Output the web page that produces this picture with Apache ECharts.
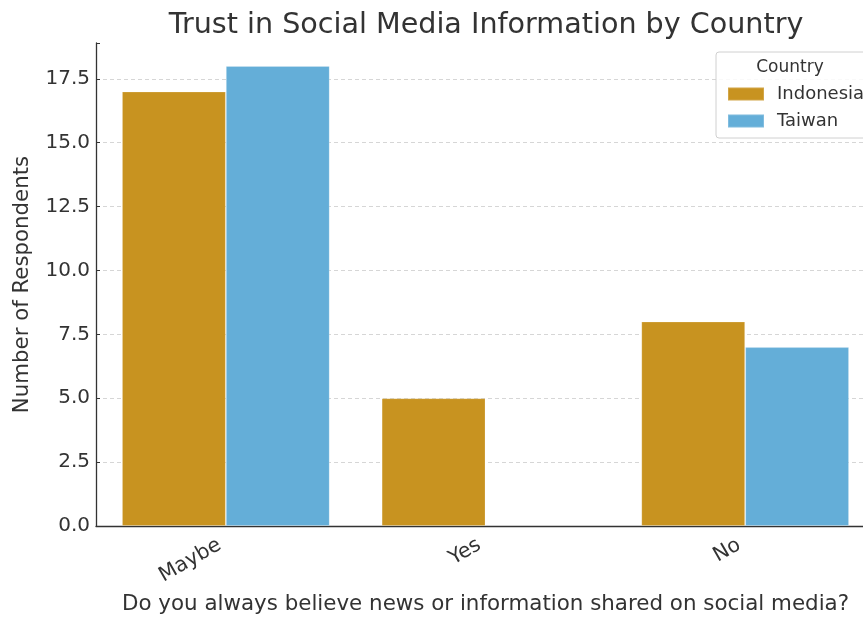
<!DOCTYPE html>
<html>
<head>
<meta charset="utf-8">
<script src="https://cdn.jsdelivr.net/npm/echarts@6/dist/echarts.min.js"></script>
<style>html,body{margin:0;padding:0;background:#fff;overflow:hidden}#wrap{width:863px;height:617px;overflow:hidden;position:relative}#c{width:880px;height:617px;position:absolute;left:0;top:0}</style>
</head>
<body>
<div id="wrap"><div id="c"></div></div>
<script>
const categories = ["Maybe", "Yes", "No"];
const indonesia = [17, 5, 8];
const taiwan = [18, null, 7];
const seriesNames = ["Indonesia", "Taiwan"];
const yTicks = [0, 2.5, 5, 7.5, 10, 12.5, 15, 17.5];

const FONT = "DejaVu Sans";
const TXT = "#333333";
const chart = echarts.init(document.getElementById('c'), null, {renderer: 'canvas', width: 880, height: 617});
chart.setOption({
  backgroundColor: '#fff',
  animation: false,
  textStyle: {fontFamily: FONT, color: TXT},
  title: {
    text: 'Trust in Social Media Information by Country',
    left: 481, top: 6, textAlign: 'center',
    textStyle: {fontFamily: FONT, fontSize: 28.6, fontWeight: 'normal', color: TXT}
  },
  grid: {left: 96, top: 43, right: 5, height: 483, containLabel: false, outerBoundsMode: 'none'},
  legend: {
    orient: 'vertical', left: 722, top: 80,
    itemWidth: 36, itemHeight: 13, itemGap: 9,
    icon: 'rect',
    data: seriesNames,
    textStyle: {fontFamily: FONT, fontSize: 18, color: TXT, padding: [0, 0, 0, 8]}
  },
  graphic: [
    {type: 'rect', shape: {x: 716, y: 52, width: 160, height: 86, r: 3}, style: {fill: 'rgba(255,255,255,0.85)', stroke: '#d0d0d0', lineWidth: 1}, z: 1},
    {type: 'text', x: 790, y: 59, style: {text: 'Country', font: '17px "DejaVu Sans"', fill: TXT, textAlign: 'center'}, z: 2}
  ],
  xAxis: {
    type: 'category', data: categories,
    name: 'Do you always believe news or information shared on social media?',
    nameLocation: 'middle', nameGap: 68,
    nameTextStyle: {fontFamily: FONT, fontSize: 21.4, color: TXT},
    axisLine: {lineStyle: {color: '#333', width: 1.3}},
    axisTick: {alignWithLabel: true, inside: true, length: 4, lineStyle: {color: '#333'}},
    axisLabel: {rotate: 30, fontFamily: FONT, fontSize: 20.5, color: TXT, margin: 14, padding: [0, 7, 0, 0]}
  },
  yAxis: {
    type: 'value', min: 0, max: 18.9, interval: 2.5,
    name: 'Number of Respondents', nameLocation: 'middle', nameGap: 63,
    nameTextStyle: {fontFamily: FONT, fontSize: 21.3, color: TXT},
    axisLine: {show: true, lineStyle: {color: '#333', width: 1.3}},
    axisTick: {show: true, inside: true, length: 4, lineStyle: {color: '#333'}},
    axisLabel: {fontFamily: FONT, fontSize: 20, color: TXT, margin: 6,
      formatter: v => yTicks.includes(+v.toFixed(2)) ? v.toFixed(1) : ''},
    splitLine: {show: true, showMaxLine: false, lineStyle: {color: '#cccccc', type: [4, 3], width: 0.8}}
  },
  series: [
    {name: seriesNames[0], type: 'bar', data: indonesia, itemStyle: {color: '#c89320', borderColor: 'rgba(255,255,255,0.18)', borderWidth: 1}, barGap: '0%', barCategoryGap: '20%'},
    {name: seriesNames[1], type: 'bar', data: taiwan, itemStyle: {color: '#64aed8', borderColor: 'rgba(255,255,255,0.18)', borderWidth: 1}, barGap: '0%', barCategoryGap: '20%'}
  ]
});
</script>
</body>
</html>
